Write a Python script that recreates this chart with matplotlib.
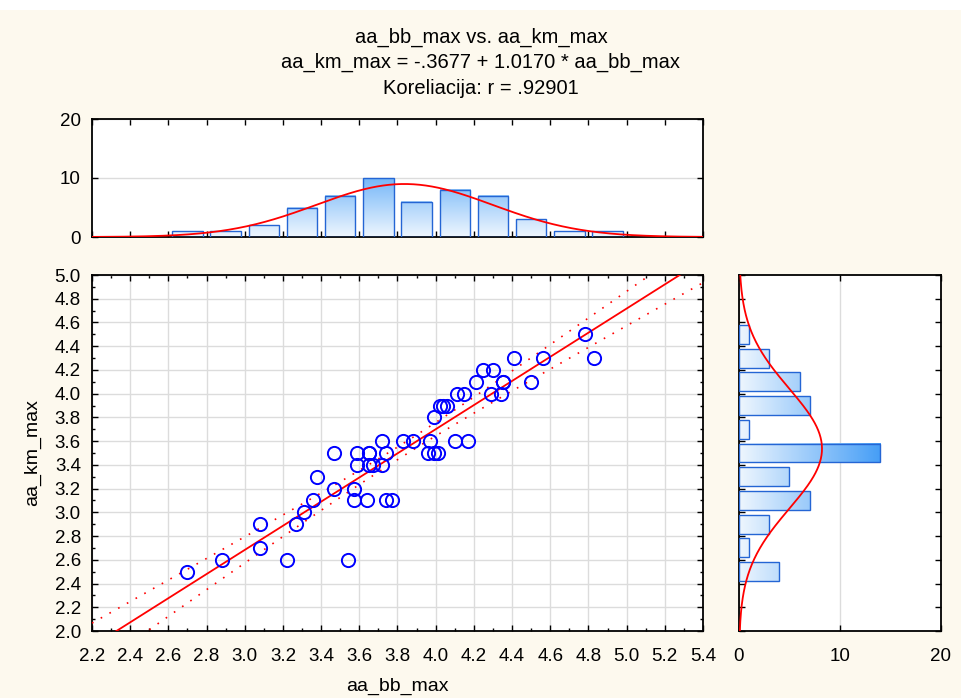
import numpy as np
import matplotlib
matplotlib.use("Agg")
import matplotlib.pyplot as plt
from matplotlib.colors import LinearSegmentedColormap, Normalize
from matplotlib.ticker import MultipleLocator, FormatStrFormatter
from matplotlib.patches import Rectangle

plt.rcParams['font.family'] = ['Liberation Sans', 'DejaVu Sans']

# paired observations
aa_bb_max = [2.70, 2.88, 3.22, 3.54, 3.08, 3.08, 3.27, 3.31, 3.36, 3.57,
             3.64, 3.74, 3.77, 3.47, 3.57, 3.38, 3.59, 3.65, 3.67, 3.72,
             3.47, 3.59, 3.65, 3.65, 3.74, 3.96, 3.99, 4.01, 3.72, 3.83,
             3.88, 3.97, 4.10, 4.17, 3.99, 4.02, 4.04, 4.06, 4.11, 4.15,
             4.29, 4.34, 4.21, 4.35, 4.35, 4.50, 4.25, 4.30, 4.41, 4.56,
             4.83, 4.78]
aa_km_max = [2.5, 2.6, 2.6, 2.6, 2.7, 2.9, 2.9, 3.0, 3.1, 3.1,
             3.1, 3.1, 3.1, 3.2, 3.2, 3.3, 3.4, 3.4, 3.4, 3.4,
             3.5, 3.5, 3.5, 3.5, 3.5, 3.5, 3.5, 3.5, 3.6, 3.6,
             3.6, 3.6, 3.6, 3.6, 3.8, 3.9, 3.9, 3.9, 4.0, 4.0,
             4.0, 4.0, 4.1, 4.1, 4.1, 4.1, 4.2, 4.2, 4.3, 4.3,
             4.3, 4.5]

intercept = -0.3677
slope = 1.0170
r_value = ".92901"

x = np.array(aa_bb_max)
y = np.array(aa_km_max)
n = len(x)

W, H = 962, 698
fig = plt.figure(figsize=(W / 100, H / 100), dpi=100)
fig.patch.set_facecolor('#fdf9ee')
fig.patches.append(Rectangle((0, 1 - 10 / H), 1, 10 / H, transform=fig.transFigure,
                             facecolor='white', edgecolor='none', zorder=0))


def box(l, t, r, b):
    return [l / W, 1 - b / H, (r - l) / W, (b - t) / H]


ax_top = fig.add_axes(box(92, 119, 703, 237))
ax = fig.add_axes(box(92, 275, 703, 631))
ax_r = fig.add_axes(box(739, 275, 941, 631))

bar_cmap = LinearSegmentedColormap.from_list('barfill', ['#eef6fe', '#3a98f6'])
bar_norm = Normalize(0, 15)
edge_col = '#2465d4'
tick_fs = 13.5
label_fs = 14
title_fs = 14.5
XLIM = (2.2, 5.4)
YLIM = (2.0, 5.0)


def style_frame(a):
    for s in a.spines.values():
        s.set_linewidth(1.3)
        s.set_color('black')
    a.tick_params(which='both', direction='in', top=True, right=True,
                  labelsize=tick_fs, width=1.0, color='black')
    a.tick_params(which='major', length=4)
    a.tick_params(which='minor', length=2.5)
    a.tick_params(axis='y', pad=8)
    a.set_facecolor('white')


# ---- scatter with regression line and confidence band ----
ax.set_xlim(*XLIM)
ax.set_ylim(*YLIM)
ax.xaxis.set_major_locator(MultipleLocator(0.2))
ax.xaxis.set_minor_locator(MultipleLocator(0.1))
ax.yaxis.set_major_locator(MultipleLocator(0.2))
ax.yaxis.set_minor_locator(MultipleLocator(0.1))
ax.xaxis.set_major_formatter(FormatStrFormatter('%.1f'))
ax.yaxis.set_major_formatter(FormatStrFormatter('%.1f'))
ax.grid(True, which='major', color='#dcdcdc', lw=1.0)
ax.set_axisbelow(True)
style_frame(ax)
ax.tick_params(axis='x', pad=12)

xs = np.linspace(XLIM[0], XLIM[1], 300)
fit = intercept + slope * xs
resid = y - (intercept + slope * x)
s_err = np.sqrt(np.sum(resid ** 2) / (n - 2))
sxx = np.sum((x - x.mean()) ** 2)
half = 2.007 * s_err * np.sqrt(1 / n + (xs - x.mean()) ** 2 / sxx)
ax.plot(xs, fit, color='#ff0000', lw=1.3, zorder=3)
ax.plot(xs, fit + half, color='#ff0000', lw=1.2, dashes=(1, 5), zorder=3)
ax.plot(xs, fit - half, color='#ff0000', lw=1.2, dashes=(1, 5), zorder=3)
ax.plot(x, y, 'o', mfc='none', mec='#0000ff', mew=1.4, ms=9.5, zorder=4)
ax.set_ylabel('aa_km_max', fontsize=label_fs, labelpad=10)
fig.text(397 / W, 1 - 686 / H, 'aa_bb_max', ha='center', va='center', fontsize=label_fs)

# ---- top histogram of aa_bb_max ----
x_edges = np.round(np.arange(2.6, 5.01, 0.2), 1)
x_counts, _ = np.histogram(x, bins=x_edges)
x_centers = x_edges[:-1] + 0.1
bw = 0.16
for c, h in zip(x_centers, x_counts):
    if h > 0:
        grad = np.linspace(0, h, 128).reshape(-1, 1)
        ax_top.imshow(grad, extent=(c - bw / 2, c + bw / 2, 0, h), origin='lower',
                      cmap=bar_cmap, norm=bar_norm, aspect='auto', zorder=2)
ax_top.bar(x_centers, x_counts, width=bw, fill=False, edgecolor=edge_col, lw=1.0, zorder=3)
xg = np.linspace(XLIM[0], XLIM[1], 400)
mx, sx = x.mean(), x.std(ddof=1)
ax_top.plot(xg, n * 0.2 * np.exp(-0.5 * ((xg - mx) / sx) ** 2) / (sx * np.sqrt(2 * np.pi)),
            color='#ff0000', lw=1.3, zorder=4)
ax_top.set_xlim(*XLIM)
ax_top.set_ylim(0, 20)
ax_top.xaxis.set_major_locator(MultipleLocator(0.2))
ax_top.set_yticks([0, 10, 20])
ax_top.grid(True, axis='y', color='#dcdcdc', lw=1.0)
ax_top.set_axisbelow(True)
style_frame(ax_top)
ax_top.tick_params(axis='x', labelbottom=False)

# ---- right histogram of aa_km_max ----
y_edges_raw = np.round(np.arange(2.4, 4.61, 0.2), 1)
y_counts, _ = np.histogram(y, bins=y_edges_raw + 0.01)
y_centers = y_edges_raw[:-1] + 0.1
for c, w in zip(y_centers, y_counts):
    if w > 0:
        grad = np.linspace(0, w, 128).reshape(1, -1)
        ax_r.imshow(grad, extent=(0, w, c - bw / 2, c + bw / 2), origin='lower',
                    cmap=bar_cmap, norm=bar_norm, aspect='auto', zorder=2)
ax_r.barh(y_centers, y_counts, height=bw, fill=False, edgecolor=edge_col, lw=1.0, zorder=3)
yg = np.linspace(YLIM[0], YLIM[1], 400)
my, sy = y.mean(), y.std(ddof=1)
ax_r.plot(n * 0.2 * np.exp(-0.5 * ((yg - my) / sy) ** 2) / (sy * np.sqrt(2 * np.pi)), yg,
          color='#ff0000', lw=1.3, zorder=4)
ax_r.set_xlim(0, 20)
ax_r.set_ylim(*YLIM)
ax_r.yaxis.set_major_locator(MultipleLocator(0.2))
ax_r.set_xticks([0, 10, 20])
ax_r.grid(True, axis='x', color='#dcdcdc', lw=1.0)
ax_r.set_axisbelow(True)
style_frame(ax_r)
ax_r.tick_params(axis='y', labelleft=False)
ax_r.tick_params(axis='x', pad=12)

# ---- titles ----
fig.text(481 / W, 1 - 37 / H, 'aa_bb_max vs. aa_km_max', ha='center', va='center', fontsize=title_fs)
fig.text(481 / W, 1 - 62 / H, 'aa_km_max = -.3677 + 1.0170 * aa_bb_max',
         ha='center', va='center', fontsize=title_fs)
fig.text(481 / W, 1 - 88 / H, f'Koreliacija: r = {r_value}', ha='center', va='center',
         fontsize=title_fs)

fig.savefig('out.png', dpi=100, facecolor=fig.get_facecolor())
